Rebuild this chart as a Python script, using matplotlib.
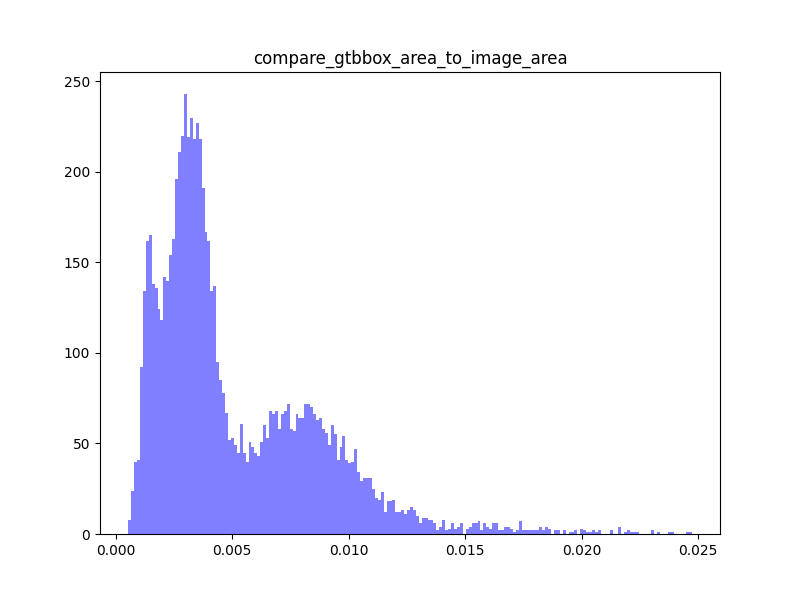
import numpy as np
import matplotlib
matplotlib.use('Agg')
import matplotlib.pyplot as plt

part1 = [8, 24, 40, 41, 92, 134, 162, 165, 138, 136, 124, 118, 142, 140, 154, 163,
         196, 211, 220, 243, 219, 230, 218, 227, 218, 191, 167, 162, 134, 137, 95, 85,
         78, 67, 52, 53]
part2 = [49, 45, 61, 45, 40, 51, 48, 45, 43, 51, 60, 53, 68, 66, 68, 58, 66, 68, 72, 58,
         57, 66, 64, 64, 72, 72, 70, 66, 63, 64, 58, 56, 49, 60, 55, 41, 48, 54, 41, 39, 40]
part3 = [47, 34, 29, 31, 31, 31, 25, 20, 19, 23, 12, 18, 18, 19, 12, 12, 13, 11, 13, 15,
         13, 10, 6, 9, 9, 8, 8, 6, 2, 4, 8, 2, 3, 6, 3, 4, 6, 0, 3, 4, 6, 6, 7, 2, 6, 4, 3, 6]
part4 = [6, 2, 2, 4, 4, 3, 1, 2, 7, 2, 2, 2, 2, 2, 2, 4, 2, 4, 3, 0, 2, 2, 0, 2, 0, 1, 1,
         2, 0, 3, 2, 1, 1, 2, 1, 2, 0, 0, 0, 2, 0, 0, 4, 0, 1, 2, 1, 1, 1, 0, 0, 0, 0, 2,
         0, 1, 0, 0, 0, 1, 1, 0, 0, 0, 0, 1, 1]
counts = np.array(part1 + part2 + part3 + part4, dtype=float)
x_min, x_max = 0.00054, 0.02473

edges = np.linspace(x_min, x_max, len(counts) + 1)

fig, ax = plt.subplots(figsize=(8, 6), dpi=100)
ax.hist(edges[:-1], bins=edges, weights=counts, color='blue', alpha=0.5)
ax.set_title('compare_gtbbox_area_to_image_area')
fig.savefig('out.png')
